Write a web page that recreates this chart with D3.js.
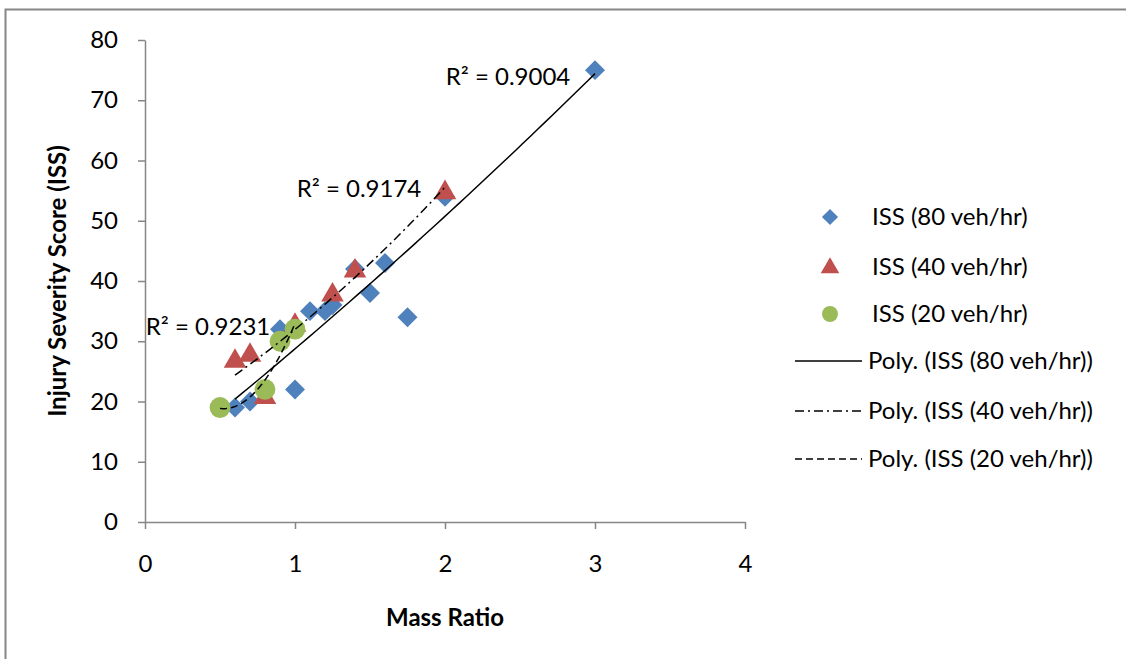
<!DOCTYPE html>
<html>
<head>
<meta charset="utf-8">
<script src="https://cdn.jsdelivr.net/npm/d3@7"></script>
<style>
  body { margin: 0; background: #fff; }
  svg { font-family: Lato, "Open Sans", sans-serif; }
  .axis path, .axis line { stroke: #868686; stroke-width: 1.5; }
  .axis text { font-size: 24px; fill: #000; font-family: Lato, sans-serif; }
</style>
</head>
<body>
<div id="chart"></div>
<script>
// data
const x80 = [0.6, 0.7, 0.9, 1.0, 1.1, 1.2, 1.25, 1.4, 1.5, 1.6, 1.75, 2.0, 3.0];
const y80 = [19, 20, 32, 22, 35, 35, 36, 42, 38, 43, 34, 54, 75];
const x40 = [0.6, 0.7, 0.8, 1.0, 1.25, 1.4, 2.0];
const y40 = [27, 28, 21, 33, 38, 42, 55];
const x20 = [0.5, 0.8, 0.9, 1.0];
const y20 = [19, 22, 30, 32];
const seriesNames = ["ISS (80 veh/hr)", "ISS (40 veh/hr)", "ISS (20 veh/hr)"];
const r2Labels = ["R² = 0.9004", "R² = 0.9174", "R² = 0.9231"];
const xTicks = [0, 1, 2, 3, 4];
const yTicks = [0, 10, 20, 30, 40, 50, 60, 70, 80];

const width = 1126, height = 659;
const svg = d3.select('#chart').append('svg')
    .attr('width', width).attr('height', height);

// outer frame
svg.append('rect').attr('x', 5.5).attr('y', 9.5)
    .attr('width', width).attr('height', height)
    .attr('fill', 'none').attr('stroke', '#868686').attr('stroke-width', 2);

const x = d3.scaleLinear().domain([0, 4]).range([145, 745]);
const y = d3.scaleLinear().domain([0, 80]).range([522, 40]);

svg.append('g').attr('class', 'axis')
    .attr('transform', 'translate(0,522)')
    .call(d3.axisBottom(x).tickValues(xTicks).tickFormat(d3.format('d'))
        .tickSize(7).tickPadding(26).tickSizeOuter(0));

svg.append('g').attr('class', 'axis')
    .attr('transform', 'translate(145,0)')
    .call(d3.axisLeft(y).tickValues(yTicks).tickSize(7).tickPadding(20).tickSizeOuter(0));

svg.append('text').attr('x', 445).attr('y', 626)
    .attr('text-anchor', 'middle').attr('font-size', 24).attr('font-weight', 'bold')
    .text('Mass Ratio');
svg.append('text')
    .attr('transform', 'translate(66,281) rotate(-90)')
    .attr('text-anchor', 'middle').attr('font-size', 24).attr('font-weight', 'bold')
    .text('Injury Severity Score (ISS)');

// 2nd order polynomial least squares
function polyfit2(xs, ys) {
    let s = [0, 0, 0, 0, 0], t = [0, 0, 0];
    xs.forEach((xv, i) => {
        for (let k = 0; k < 5; k++) s[k] += Math.pow(xv, k);
        for (let k = 0; k < 3; k++) t[k] += ys[i] * Math.pow(xv, k);
    });
    const A = [[s[0], s[1], s[2], t[0]], [s[1], s[2], s[3], t[1]], [s[2], s[3], s[4], t[2]]];
    for (let i = 0; i < 3; i++) {
        for (let j = i + 1; j < 3; j++) {
            const f = A[j][i] / A[i][i];
            for (let k = i; k < 4; k++) A[j][k] -= f * A[i][k];
        }
    }
    const c = [0, 0, 0];
    for (let i = 2; i >= 0; i--) {
        let v = A[i][3];
        for (let k = i + 1; k < 3; k++) v -= A[i][k] * c[k];
        c[i] = v / A[i][i];
    }
    return xv => c[0] + c[1] * xv + c[2] * xv * xv;
}

const colors = ['#4F81BD', '#C0504D', '#9BBB59'];
const dashes = [null, '9,4,2,4', '7,4'];
const sets = [[x80, y80], [x40, y40], [x20, y20]];
const line = d3.line().x(d => x(d[0])).y(d => y(d[1]));

const symbols = [
    d => d3.symbol().type(d3.symbolSquare).size(d)(),
    d => d3.symbol().type(d3.symbolTriangle).size(d)(),
    d => d3.symbol().type(d3.symbolCircle).size(d)()
];
const markSizes = [200, 220, 340];
const rot = [45, 0, 0];

// markers
sets.forEach((s, i) => {
    svg.append('g').selectAll('path')
        .data(s[0].map((xv, j) => [xv, s[1][j]]))
        .enter().append('path')
        .attr('d', symbols[i](markSizes[i]))
        .attr('fill', colors[i])
        .attr('transform', d => `translate(${x(d[0])},${y(d[1]) + (i == 1 ? 2 : 0)}) rotate(${rot[i]})`);
});

// trendlines
sets.forEach((s, i) => {
    const f = polyfit2(s[0], s[1]);
    const lo = d3.min(s[0]), hi = d3.max(s[0]);
    const pts = d3.range(0, 51).map(k => { const xv = lo + (hi - lo) * k / 50; return [xv, f(xv)]; });
    svg.append('path').attr('d', line(pts))
        .attr('fill', 'none').attr('stroke', '#000').attr('stroke-width', 1.5)
        .attr('stroke-dasharray', dashes[i]);
});

// R² labels
const r2Pos = [[508, 85], [359, 197], [208, 335]];
r2Labels.forEach((t, i) => {
    svg.append('text').attr('x', r2Pos[i][0]).attr('y', r2Pos[i][1])
        .attr('text-anchor', 'middle').attr('font-size', 24).text(t);
});

// legend
const lg = svg.append('g');
const rows = [217, 267, 314, 361, 411, 459];
seriesNames.forEach((n, i) => {
    lg.append('path').attr('d', symbols[i]([130, 150, 200][i]))
        .attr('fill', colors[i])
        .attr('transform', `translate(830,${rows[i] + (i == 1 ? 1 : 0)}) rotate(${rot[i]})`);
    lg.append('text').attr('x', 872).attr('y', rows[i] + 8).attr('font-size', 24).text(n);
});
seriesNames.forEach((n, i) => {
    const r = rows[i + 3];
    lg.append('line').attr('x1', 795).attr('x2', 862).attr('y1', r).attr('y2', r)
        .attr('stroke', '#000').attr('stroke-width', 1.5).attr('stroke-dasharray', dashes[i]);
    lg.append('text').attr('x', 868).attr('y', r + 8).attr('font-size', 24).text('Poly. (' + n + ')');
});
</script>
</body>
</html>
